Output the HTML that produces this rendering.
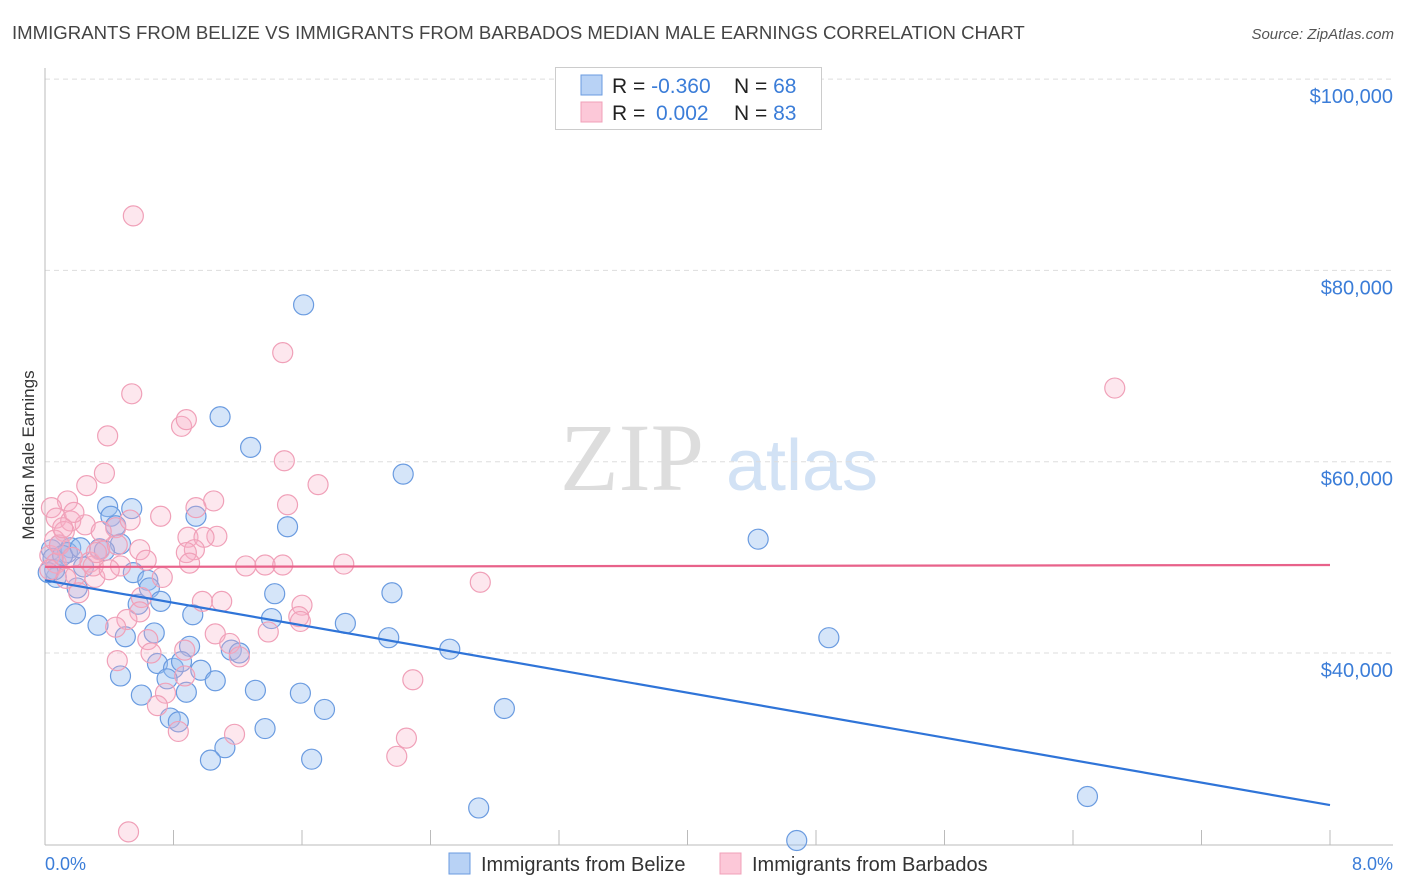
<!DOCTYPE html>
<html><head><meta charset="utf-8"><style>
body{margin:0;background:#fff;font-family:"Liberation Sans",sans-serif;}
svg{display:block}
</style></head><body>
<svg id="chart" width="1406" height="892" xmlns="http://www.w3.org/2000/svg">
<text x="12" y="39" font-size="18.6" fill="#444">IMMIGRANTS FROM BELIZE VS IMMIGRANTS FROM BARBADOS MEDIAN MALE EARNINGS CORRELATION CHART</text>
<text x="1394" y="39" font-size="15" fill="#555" font-style="italic" text-anchor="end">Source: ZipAtlas.com</text>
<g>
<text x="632" y="490" font-size="96" font-family="Liberation Serif,serif" fill="#ddd" text-anchor="middle">ZIP</text>
<text x="802" y="490" font-size="72" fill="#d2e2f5" text-anchor="middle">atlas</text>
</g>
<g id="grid"></g>
<line x1="45" y1="68" x2="45" y2="845" stroke="#bbb"/>
<line x1="45" y1="845" x2="1393" y2="845" stroke="#bbb"/>
<g id="ticks"></g>
<text transform="translate(34,455) rotate(-90)" font-size="17" fill="#333" text-anchor="middle">Median Male Earnings</text>
<text x="45" y="870" font-size="18" fill="#3b7dd8">0.0%</text>
<text x="1393" y="870" font-size="18" fill="#3b7dd8" text-anchor="end">8.0%</text>
<g id="points"></g>
<g id="trends"></g>
<g>
<rect x="555.5" y="67.5" width="266" height="62" fill="#fff" stroke="#ccc"/>
<rect x="581" y="75" width="21" height="20" fill="#b8d2f5" stroke="#6a9be0"/>
<rect x="581" y="102" width="21" height="20" fill="#fcc8d8" stroke="#f0a0b8"/>
<text x="612" y="93" font-size="21" fill="#222">R = <tspan fill="#3b7dd8">-0.360</tspan><tspan x="734">N = </tspan><tspan fill="#3b7dd8">68</tspan></text>
<text x="612" y="120" font-size="21" fill="#222">R = <tspan fill="#3b7dd8" x="656">0.002</tspan><tspan x="734">N = </tspan><tspan fill="#3b7dd8">83</tspan></text>
</g>
<g>
<rect x="449" y="853" width="21" height="21" fill="#b8d2f5" stroke="#6a9be0"/>
<text x="481" y="871" font-size="20" fill="#333">Immigrants from Belize</text>
<rect x="720" y="853" width="21" height="21" fill="#fcc8d8" stroke="#f0a0b8"/>
<text x="752" y="871" font-size="20" fill="#333">Immigrants from Barbados</text>
</g>
</svg>
<script>
const yTicks=[40000,60000,80000,100000];
const yTickLabels=["$40,000","$60,000","$80,000","$100,000"];
const xTicks=[0,0.8,1.6,2.4,3.2,4.0,4.8,5.6,6.4,7.2,8.0];
const belizeX=[1.61,1.09,1.28,2.23,4.44,0.54,0.39,0.41,0.44,0.94,1.51,0.47,0.09,0.04,0.16,0.34,0.14,0.05,0.07,0.24,0.55,0.64,0.65,0.20,0.58,0.72,0.92,1.43,2.16,0.19,0.33,1.41,1.87,0.50,0.68,2.14,2.52,4.88,0.90,1.16,1.21,0.70,0.80,0.85,0.97,0.76,0.47,1.06,1.31,1.59,0.60,0.88,1.74,2.86,0.78,0.83,1.37,1.12,1.03,1.66,2.70,6.49,4.68,0.06,0.02,0.11,0.37,0.22];
const belizeY=[76.4,64.7,61.5,58.7,51.9,55.1,55.3,54.3,53.3,54.3,53.2,51.4,51.3,50.8,51.0,50.9,50.5,49.9,47.9,49.0,48.4,47.6,46.8,46.8,45.1,45.4,44.0,46.2,46.3,44.1,42.9,43.6,43.1,41.7,42.1,41.6,40.4,41.6,40.7,40.3,40.0,38.9,38.4,39.1,38.2,37.3,37.6,37.1,36.1,35.8,35.6,35.9,34.1,34.2,33.2,32.8,32.1,30.1,28.8,28.9,23.8,25.0,20.4,48.7,48.4,50.2,50.7,51.0];
const barbadosX=[0.55,1.48,6.66,0.54,0.85,0.88,0.39,1.49,0.37,0.26,1.70,0.14,1.05,0.04,1.51,0.94,0.72,0.07,0.16,0.25,0.12,0.44,0.35,1.07,0.89,0.99,0.59,0.93,0.88,0.03,0.07,0.28,0.47,0.90,1.25,1.37,1.48,1.86,0.19,0.31,0.73,2.71,0.60,0.21,0.98,1.10,1.60,1.58,1.59,0.59,0.51,0.44,1.06,1.39,1.15,0.64,0.66,1.21,0.45,0.87,2.29,0.75,0.70,0.83,1.18,2.25,2.19,0.52,0.06,0.09,0.34,0.45,0.17,0.30,0.11,0.53,0.40,0.18,0.03,0.87,0.32,0.63,0.13];
const barbadosY=[85.7,71.4,67.7,67.1,63.7,64.4,62.7,60.1,58.8,57.5,57.6,55.9,55.9,55.2,55.5,55.2,54.3,54.1,53.8,53.4,52.7,53.1,52.7,52.2,52.1,52.1,50.8,50.8,50.5,50.2,49.4,49.5,49.1,49.4,49.1,49.2,49.2,49.3,48.1,47.9,47.9,47.4,45.8,46.3,45.4,45.4,45.0,43.8,43.3,44.3,43.5,42.7,42.0,42.2,41.0,41.4,40.0,39.6,39.2,37.6,37.2,35.8,34.5,31.8,31.5,31.1,29.2,21.3,51.8,51.3,50.8,51.3,50.0,49.1,53.1,53.9,48.7,54.7,48.7,40.3,50.5,49.7,47.8];
const trendBelize=[47.6,24.1];
const trendBarbados=[49.0,49.2];
const NS="http://www.w3.org/2000/svg";
function xs(p){return 45+(p/8)*(1330-45);}
function ys(v){return 653-(v-40000)*191.3/20000;}
function mk(t,a){const e=document.createElementNS(NS,t);for(const k in a)e.setAttribute(k,a[k]);return e;}
const grid=document.getElementById('grid');
yTicks.forEach((v,i)=>{
  const l=mk('line',{x1:45,x2:1393,y1:ys(v),y2:ys(v),stroke:'#ddd','stroke-dasharray':'5,4'});
  
  
  grid.appendChild(l);
  const t=mk('text',{x:1393,y:ys(v)+24,'font-size':20,fill:'#3b7dd8','text-anchor':'end'});
  t.textContent=yTickLabels[i];
  
  
  grid.appendChild(t);
});
const tk=document.getElementById('ticks');
xTicks.forEach(p=>{
  const l=mk('line',{x1:xs(p),x2:xs(p),y1:830,y2:845,stroke:'#bbb'});
  
  
  tk.appendChild(l);
});
const pts=document.getElementById('points');
belizeX.forEach((x,i)=>{
  const c=mk('circle',{cx:xs(x),cy:ys(belizeY[i]*1000),r:10,fill:'rgba(150,190,240,0.4)',stroke:'#6a9be0','stroke-width':1.2});
  
  
  pts.appendChild(c);
});
barbadosX.forEach((x,i)=>{
  const c=mk('circle',{cx:xs(x),cy:ys(barbadosY[i]*1000),r:10,fill:'rgba(248,175,200,0.3)',stroke:'#f0a0b8','stroke-width':1.2});
  
  
  pts.appendChild(c);
});
const tr=document.getElementById('trends');
const lb=mk('line',{x1:xs(0),x2:xs(8),y1:ys(trendBelize[0]*1000),y2:ys(trendBelize[1]*1000),stroke:'#2f74d8','stroke-width':2.2});


tr.appendChild(lb);
const lp=mk('line',{x1:xs(0),x2:xs(8),y1:ys(trendBarbados[0]*1000),y2:ys(trendBarbados[1]*1000),stroke:'#e8628a','stroke-width':2.2});


tr.appendChild(lp);
</script>
</body></html>
